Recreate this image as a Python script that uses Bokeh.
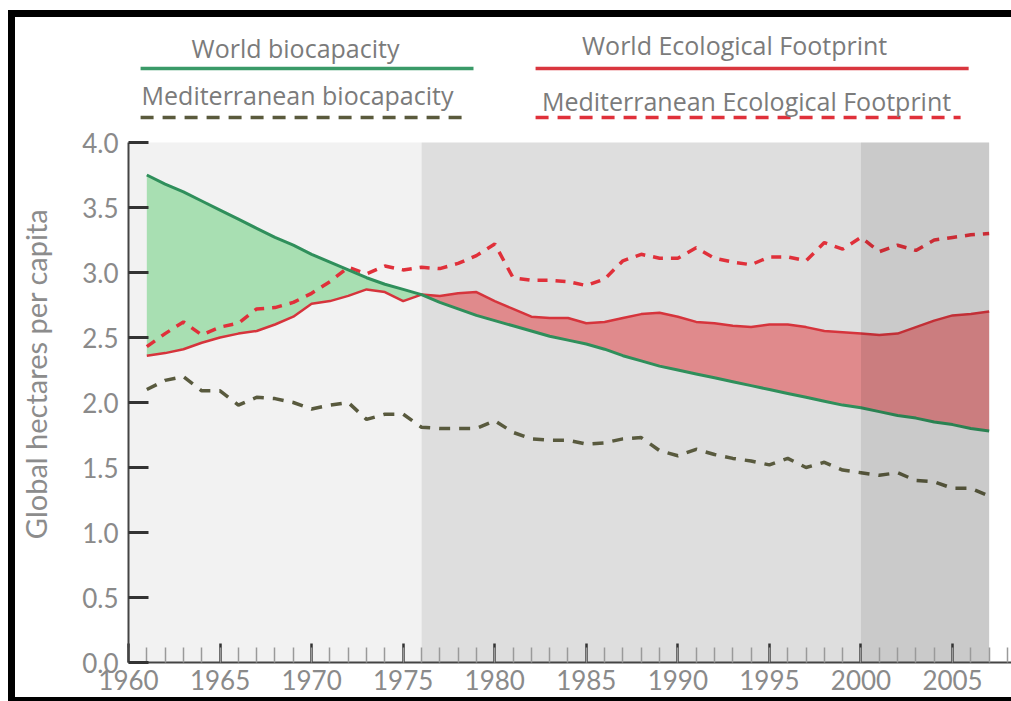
import numpy as np
from bokeh.plotting import figure
from bokeh.models import (Range1d, SingleIntervalTicker, FixedTicker, PrintfTickFormatter, Label)
from bokeh.embed import file_html
from bokeh.resources import INLINE

# ---------------- data ----------------
years = list(range(1961, 2008))
world_biocapacity = [3.75, 3.68, 3.62, 3.55, 3.48, 3.41, 3.34, 3.27, 3.21, 3.14,
                     3.08, 3.02, 2.96, 2.91, 2.87, 2.83, 2.77, 2.72, 2.67, 2.63,
                     2.59, 2.55, 2.51, 2.48, 2.45, 2.41, 2.36, 2.32, 2.28, 2.25,
                     2.22, 2.19, 2.16, 2.13, 2.10, 2.07, 2.04, 2.01, 1.98, 1.96,
                     1.93, 1.90, 1.88, 1.85, 1.83, 1.80, 1.78]
world_footprint = [2.36, 2.38, 2.41, 2.46, 2.50, 2.53, 2.55, 2.60, 2.66, 2.76,
                   2.78, 2.82, 2.87, 2.85, 2.78, 2.83, 2.82, 2.84, 2.85, 2.78,
                   2.72, 2.66, 2.65, 2.65, 2.61, 2.62, 2.65, 2.68, 2.69, 2.66,
                   2.62, 2.61, 2.59, 2.58, 2.60, 2.60, 2.58, 2.55, 2.54, 2.53,
                   2.52, 2.53, 2.58, 2.63, 2.67, 2.68, 2.70]
med_biocapacity = [2.10, 2.17, 2.20, 2.09, 2.09, 1.98, 2.04, 2.03, 2.00, 1.95,
                   1.98, 2.00, 1.87, 1.91, 1.91, 1.81, 1.80, 1.80, 1.80, 1.86,
                   1.77, 1.72, 1.71, 1.71, 1.68, 1.69, 1.72, 1.73, 1.63, 1.59,
                   1.64, 1.60, 1.57, 1.55, 1.52, 1.57, 1.50, 1.54, 1.48, 1.46,
                   1.44, 1.46, 1.40, 1.39, 1.34, 1.34, 1.28]
med_footprint = [2.43, 2.53, 2.62, 2.52, 2.58, 2.61, 2.72, 2.73, 2.77, 2.84,
                 2.93, 3.04, 2.99, 3.05, 3.02, 3.04, 3.03, 3.07, 3.13, 3.22,
                 2.96, 2.94, 2.94, 2.93, 2.90, 2.95, 3.09, 3.14, 3.11, 3.11,
                 3.19, 3.11, 3.08, 3.06, 3.12, 3.12, 3.09, 3.23, 3.18, 3.27,
                 3.16, 3.21, 3.17, 3.25, 3.27, 3.29, 3.30]
period_edges = [1960, 1976, 2000, 2007]
y_ticks = [0.0, 0.5, 1.0, 1.5, 2.0, 2.5, 3.0, 3.5, 4.0]
legend_labels = ["World biocapacity", "Mediterranean biocapacity",
                 "World Ecological Footprint", "Mediterranean Ecological Footprint"]
y_label = "Global hectares per capita"

# ---------------- figure ----------------
W, H = 1011, 701
p = figure(width=W, height=H, output_backend="svg", toolbar_location=None,
           x_range=Range1d(1960, 2008.22), y_range=Range1d(0, 4.954),
           min_border_left=128, min_border_right=0, min_border_top=18,
           min_border_bottom=39, background_fill_color="white",
           border_fill_color="white", border_fill_alpha=0.0, outline_line_color=None)
p.grid.visible = False
# black picture frame around the chart (page decoration)
p.styles = {"background": ("linear-gradient(#000,#000) 8px 10px / 7px 691px no-repeat, "
                           "linear-gradient(#000,#000) 8px 10px / 1003px 7px no-repeat, "
                           "linear-gradient(#000,#000) 8px 697px / 1003px 4px no-repeat, #ffffff")}

band_colors = ["#f2f2f2", "#dedede", "#dedede"]
p.quad(left=period_edges[:-1], right=period_edges[1:], bottom=0, top=y_ticks[-1],
       fill_color=band_colors, line_color=None)

bio = np.array(world_biocapacity)
fp = np.array(world_footprint)
p.varea(x=years, y1=fp, y2=np.maximum(bio, fp), fill_color="#a8dfb2")
p.varea(x=years, y1=bio, y2=np.maximum(bio, fp), fill_color="#e08a8c")

p.line(years, med_biocapacity, line_color="#595a3e", line_width=3.5, line_dash="11 9")
p.line(years, med_footprint, line_color="#e0303a", line_width=3.5, line_dash="10 8")
p.line(years, world_footprint, line_color="#d6343c", line_width=2.5)
p.line(years, world_biocapacity, line_color="#2f8f5b", line_width=3)

# darker last period overlay
p.quad(left=[period_edges[2]], right=[period_edges[3]], bottom=0, top=y_ticks[-1],
       fill_color="black", fill_alpha=0.09, line_color=None)

# ---------------- legend (drawn as text + lines) ----------------
lg_font = "Open Sans"
lg_color = "#7b7b7b"
for (x, y, t) in [(1969.12, 4.724, legend_labels[0]), (1969.23, 4.362, legend_labels[1]),
                  (1993.10, 4.747, legend_labels[2]), (1993.75, 4.316, legend_labels[3])]:
    p.add_layout(Label(x=x, y=y, text=t, text_font=lg_font, text_font_size="25px",
                       text_color=lg_color, text_align="center", text_baseline="alphabetic"))
p.line([1960.66, 1978.84], [4.569, 4.569], line_color="#3a9a68", line_width=3.5)
p.line([1960.66, 1978.40], [4.192, 4.192], line_color="#5a5a3c", line_width=3.5, line_dash="13 9")
p.line([1982.23, 2005.88], [4.569, 4.569], line_color="#d9363e", line_width=3.5)
p.line([1982.23, 2005.44], [4.192, 4.192], line_color="#e0303a", line_width=3.5, line_dash="13 9")

# ---------------- axes ----------------
tick_font = "Lato"
xa = p.xaxis[0]
xa.ticker = SingleIntervalTicker(interval=5, num_minor_ticks=5)
xa.axis_line_color = "#444444"
xa.axis_line_width = 2
xa.major_tick_in = 19
xa.major_tick_out = 0
xa.major_tick_line_color = "#333333"
xa.major_tick_line_width = 2.5
xa.minor_tick_in = 15
xa.minor_tick_out = 0
xa.minor_tick_line_color = "#9a9a9a"
xa.minor_tick_line_width = 1.5
xa.major_label_text_font = tick_font
xa.major_label_text_font_size = "26px"
xa.major_label_text_color = "#8a8a8a"
xa.major_label_standoff = 7

ya = p.yaxis[0]
ya.ticker = FixedTicker(ticks=y_ticks)
ya.formatter = PrintfTickFormatter(format="%.1f")
ya.bounds = (y_ticks[0], y_ticks[-1])
ya.axis_line_color = "#444444"
ya.axis_line_width = 2
ya.major_tick_in = 20
ya.major_tick_out = 0
ya.major_tick_line_color = "#333333"
ya.major_tick_line_width = 3
ya.minor_tick_in = 0
ya.minor_tick_out = 0
ya.major_label_text_font = tick_font
ya.major_label_text_font_size = "26px"
ya.major_label_text_color = "#8a8a8a"
ya.major_label_standoff = 10
ya.axis_label = y_label + "\u00a0" * 9
ya.axis_label_text_font = tick_font
ya.axis_label_text_font_size = "29px"
ya.axis_label_text_font_style = "normal"
ya.axis_label_text_color = "#8c8c8c"
ya.axis_label_standoff = 26

open("out.html", "w").write(file_html(p, INLINE))
